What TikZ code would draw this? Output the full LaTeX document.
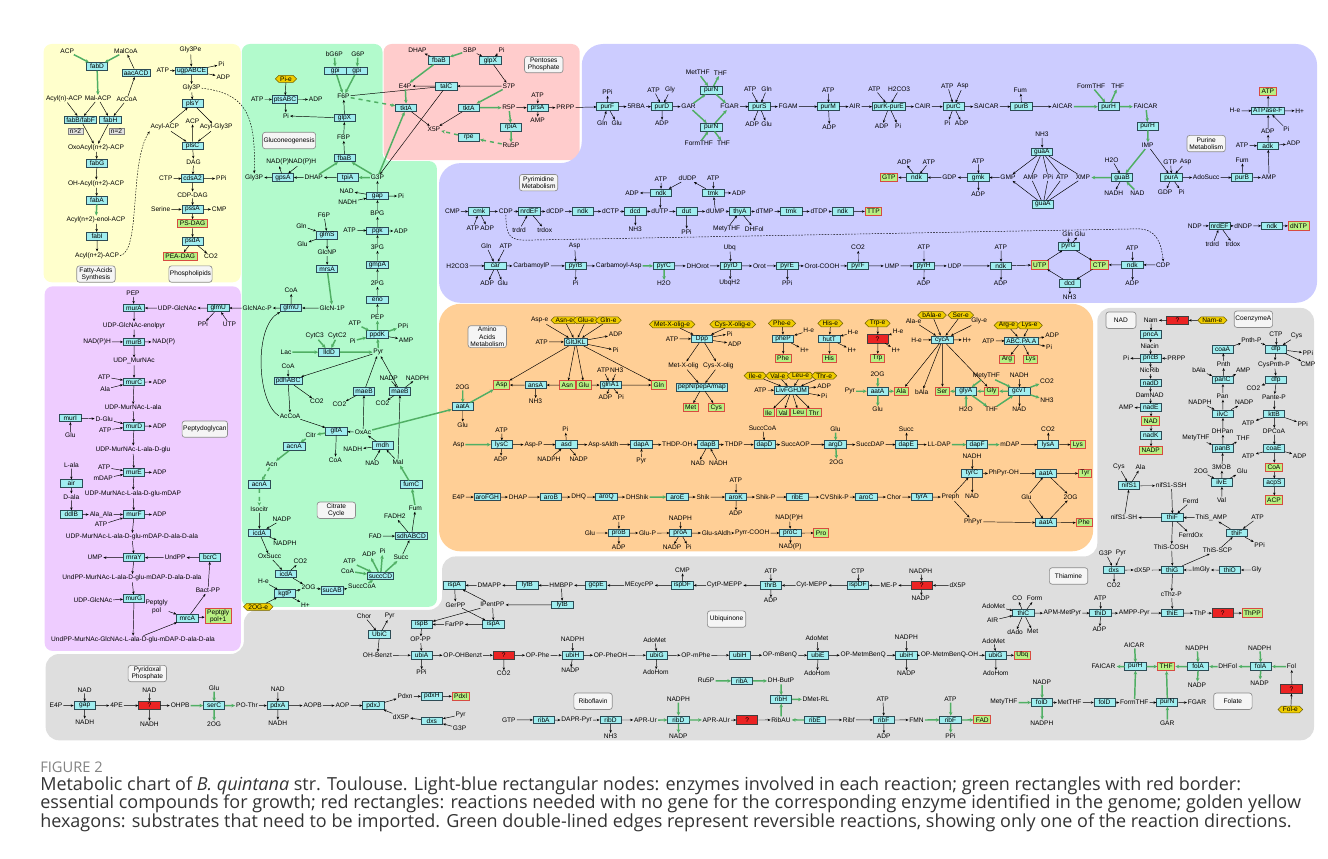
\documentclass[tikz,border=0pt]{standalone}
\usepackage{fontspec}
\setmainfont{Liberation Sans}
\newfontfamily\capfont{Open Sans}
\usetikzlibrary{arrows.meta,shapes.symbols}
\definecolor{cyel}{RGB}{255,255,204}
\definecolor{cgrn}{RGB}{178,250,204}
\definecolor{cpnk}{RGB}{255,204,204}
\definecolor{cblu}{RGB}{204,204,255}
\definecolor{corg}{RGB}{255,207,150}
\definecolor{cpur}{RGB}{238,204,255}
\definecolor{cgry}{RGB}{222,222,222}
\definecolor{cenz}{RGB}{160,238,240}
\definecolor{cenzb}{RGB}{45,75,85}
\definecolor{cess}{RGB}{185,240,130}
\definecolor{cessb}{RGB}{215,75,65}
\definecolor{cimp}{RGB}{240,205,0}
\definecolor{cimpb}{RGB}{110,95,0}
\definecolor{cunk}{RGB}{235,35,35}
\definecolor{crev}{RGB}{80,175,100}
\definecolor{ccap}{RGB}{51,51,51}
\definecolor{cfig}{RGB}{130,130,130}
\tikzset{
  every node/.style={font=\fontsize{4.95}{5.6}\selectfont},
  enz/.style={draw=cenzb,fill=cenz,line width=0.5pt,minimum width=16pt,minimum height=5.75pt,inner xsep=1.2pt,inner ysep=0.2pt},
  met/.style={inner sep=0.6pt,align=center},
  ess/.style={draw=cessb,fill=cess,line width=0.6pt,minimum height=6.2pt,inner xsep=1.6pt,inner ysep=0.3pt,align=center},
  unk/.style={draw=black!75,fill=cunk,line width=0.5pt,minimum width=16pt,minimum height=6.2pt,inner sep=0pt},
  imp/.style={shape=signal,signal to=west and east,draw=cimpb,fill=cimp,line width=0.4pt,inner xsep=1pt,inner ysep=0.2pt,minimum height=5.2pt},
  lab/.style={draw=black!45,fill=black!4,rounded corners=2pt,align=center,minimum width=28.8pt,minimum height=12.3pt,inner sep=0.8pt,line width=0.5pt},
  nbx/.style={draw=black!50,fill=black!12,line width=0.4pt,inner sep=0.6pt,minimum width=11.3pt},
  ar/.style={line width=0.35pt,-{Stealth[length=2.2pt,width=1.8pt]}},
  ln/.style={line width=0.35pt},
  rv/.style={draw=crev,line width=1.1pt,-{Stealth[length=2.8pt,width=2.6pt]}},
  rvd/.style={rv,dashed},
  dsh/.style={line width=0.35pt,dash pattern=on 1.2pt off 1pt,-{Stealth[length=2.2pt,width=1.8pt]}},
}
\newcommand\zE[4]{\node[enz] (#1) at (#2,#3) {#4};}
\newcommand\zM[4]{\node[met] (#1) at (#2,#3) {#4};}
\newcommand\zG[4]{\node[ess] (#1) at (#2,#3) {#4};}
\newcommand\zR[3]{\node[unk] (#1) at (#2,#3) {?};}
\newcommand\zH[4]{\node[imp] (#1) at (#2,#3) {#4};}
\newcommand\zL[4]{\node[lab] (#1) at (#2,#3) {#4};}
\begin{document}
\begin{tikzpicture}[x=0.75pt,y=-0.75pt]
\useasboundingbox (0,0) rectangle (1328,858);
\begin{scope}[shift={(-2.6,-1.2)},scale=1.027]
% ---------- regions
\fill[cyel,rounded corners=6pt] (45,44) rectangle (237,276);
\fill[cgrn,rounded corners=6pt] (238,44) -- (375,44) -- (375,158) -- (428,158) -- (428,592) -- (238,592) -- cycle;
\fill[cpnk,rounded corners=6pt] (376,44) rectangle (567,157);
\fill[cblu,rounded corners=16pt] (569,44) -- (1285,44) -- (1285,296) -- (430,296) -- (430,160) -- (569,160) -- cycle;
\fill[corg,rounded corners=16pt] (430,297) rectangle (1067,538);
\fill[cpur,rounded corners=6pt] (46,280) rectangle (237,635);
\fill[cgry,rounded corners=10pt] (47,638) -- (240,638) -- (240,595) -- (433,595) -- (433,543) -- (1071,543) -- (1071,301) -- (1282,301) -- (1282,722) -- (47,722) -- cycle;
% ---------- fatty acids
\zM{ACPa}{68}{51}{ACP}
\zM{MalCoA}{125}{51}{MalCoA}
\zE{fabD}{97}{66}{fabD}
\zE{aacACD}{135}{72}{aacACD}
\zM{AcylnACP}{65}{97}{Acyl(n)-ACP}
\zM{MalACP}{98}{97}{Mal-ACP}
\zM{AcCoAy}{126}{98}{AcCoA}
\zE{fabBF}{81}{118}{fabB/fabF}
\zE{fabH}{110}{118}{fabH}
\node[nbx] (n2a) at (76,129) {n>2};
\node[nbx] (n2b) at (116,129) {n=2};
\zM{Oxo}{96}{145}{OxoAcyl(n+2)-ACP}
\zE{fabG}{97}{160}{fabG}
\zM{OHAcyl}{96}{180}{OH-Acyl(n+2)-ACP}
\zE{fabA}{97}{196}{fabA}
\zM{Enol}{96}{215}{Acyl(n+2)-enol-ACP}
\zE{fabI}{97}{231}{fabI}
\zM{Acyl2}{97}{250}{Acyl(n+2)-ACP}
\zL{LFA}{96}{268}{Fatty-Acids\\Synthesis}
% ---------- phospholipids
\zM{Gly3Pe}{188}{50}{Gly3Pe}
\zE{ugp}{189}{70}{ugpABCE}
\zM{ATPy}{161}{70}{ATP}
\zM{Piy}{218}{64}{Pi}
\zM{ADPy}{220}{76}{ADP}
\zM{Gly3Py}{189}{87}{Gly3P}
\zE{plsY}{190}{102}{plsY}
\zM{ACPy}{190}{119}{ACP}
\zM{AcylACP}{163}{125}{Acyl-ACP}
\zM{AcylGly}{213}{125}{Acyl-Gly3P}
\zE{plsC}{190}{143}{plsC}
\zM{DAG}{191}{159}{DAG}
\zM{CTPy}{164}{175}{CTP}
\zE{cdsA}{190}{175}{cdsA2}
\zM{PPiy}{218}{175}{PPi}
\zM{CDPDAG}{190}{191}{CDP-DAG}
\zM{Serine}{159}{205}{Serine}
\zE{pssA}{190}{205}{pssA}
\zM{CMPy}{216}{205}{CMP}
\zG{PSDAG}{190}{219}{PS-DAG}
\zE{psdA}{190}{236}{psdA}
\zG{PEADAG}{178}{251}{PEA-DAG}
\zM{CO2y}{208}{251}{CO2}
\zL{LPL}{188}{268}{Phospholipids}
% ---------- gluconeogenesis
\zM{bG6P}{328}{54}{bG6P}
\zM{G6P}{351}{54}{G6P}
\zE{gpi1}{329}{70}{gpi}
\zE{gpi2}{350}{70}{gpi}
\zH{Pie}{281}{78}{Pi-e}
\zM{ATPg}{253}{98}{ATP}
\zE{pts}{280}{98}{ptsABC}
\zM{ADPg}{310}{98}{ADP}
\zM{F6P}{337}{95}{F6P}
\zM{Pig}{281}{114}{Pi}
\zE{glpXg}{338}{116}{glpX}
\zL{LGlu}{284}{138}{Gluconeogenesis}
\zM{FBP}{337}{135}{FBP}
\zE{fbaBg}{338}{155}{fbaB}
\zM{NADPg}{273}{159}{NAD(P)}
\zM{NADPHg}{297}{159}{NAD(P)H}
\zM{Gly3Pg}{250}{174}{Gly3P}
\zE{gpsA}{278}{174}{gpsA}
\zM{DHAPg}{308}{174}{DHAP}
\zE{tpiA}{341}{174}{tpiA}
\zM{G3P}{370}{174}{G3P}
\zM{NADg}{340}{187}{NAD}
\zM{NADHg}{341}{198}{NADH}
\zE{gap}{370}{192}{gap}
\zM{Pig2}{393}{192}{Pi}
\zM{BPG}{370}{209}{BPG}
\zM{ATPg2}{343}{225}{ATP}
\zE{pgk}{370}{226}{pgk}
\zM{ADPg2}{393}{226}{ADP}
\zM{PG3}{370}{242}{3PG}
\zE{gmpA}{370}{259}{gmpA}
\zM{PG2}{370}{277}{2PG}
\zE{eno}{370}{293}{eno}
\zM{PEPg}{370}{310}{PEP}
\zE{ppdK}{370}{327}{ppdK}
\zM{ATPg3}{348}{316}{ATP}
\zM{Pig3}{346}{333}{Pi}
\zM{PPig}{395}{319}{PPi}
\zM{AMPg}{398}{332}{AMP}
\zM{Pyr}{371}{344}{Pyr}
\zM{F6Pb}{318}{211}{F6P}
\zM{Glnm}{296}{221}{Gln}
\zE{glmS}{321}{230}{glmS}
\zM{Glum}{297}{239}{Glu}
\zM{GlcNP}{321}{247}{GlcNP}
\zE{mrsA}{321}{263}{mrsA}
\zM{GlcN1P}{326}{301}{GlcN-1P}
\zE{glmUb}{286}{301}{glmU}
\zM{CoAg}{286}{284}{CoA}
\zM{GlcNAcP}{253}{301}{GlcNAc-P}
% ---------- citrate cycle
\zM{Lac}{281}{344}{Lac}
\zE{lldD}{323}{344}{lldD}
\zM{CytC3}{309}{328}{CytC3}
\zM{CytC2}{331}{328}{CytC2}
\zM{CoAg2}{283}{358}{CoA}
\zE{pdhABC}{283}{372}{pdhABC}
\zM{CO2g1}{311}{392}{CO2}
\zM{AcCoAg}{285}{406}{AcCoA}
\zM{CO2g2}{333}{395}{CO2}
\zE{maeB1}{357}{382}{maeB}
\zM{NADPg2}{381}{369}{NADP}
\zM{NADPHg2}{409}{369}{NADPH}
\zE{maeB2}{392}{382}{maeB}
\zM{CO2g4}{375}{394}{CO2}
\zM{Citr}{305}{425}{Citr}
\zE{gltA}{330}{421}{gltA}
\zM{OxAc}{356}{422}{OxAc}
\zM{CoAg3}{329}{449}{CoA}
\zE{acnA1}{289}{436}{acnA}
\zM{Acn}{267}{453}{Acn}
\zE{acnA2}{255}{473}{acnA}
\zM{Isocitr}{255}{497}{Isocitr}
\zL{LCit}{330}{498}{Citrate\\Cycle}
\zM{NADHg2}{346}{439}{NADH}
\zE{mdh}{375}{435}{mdh}
\zM{NADg2}{365}{452}{NAD}
\zM{Mal}{390}{451}{Mal}
\zE{fumC}{403}{473}{fumC}
\zM{Fum}{407}{496}{Fum}
\zM{FADH2}{387}{504}{FADH2}
\zM{FADg}{368}{523}{FAD}
\zE{sdh}{403}{523}{sdhABCD}
\zM{ADPg3}{362}{541}{ADP}
\zM{Pig4}{375}{538}{Pi}
\zM{Succ}{393}{544}{Succ}
\zE{succCD}{373}{562}{succCD}
\zM{ATPg4}{343}{548}{ATP}
\zM{CoAg4}{341}{557}{CoA}
\zM{NADPg3}{277}{507}{NADP}
\zE{icdA1}{255}{520}{icdA}
\zM{NADPHg3}{280}{530}{NADPH}
\zM{OxSucc}{265}{543}{OxSucc}
\zM{CO2g3}{295}{548}{CO2}
\zE{icdA2}{281}{560}{icdA}
\zM{Heg}{259}{567}{H-e}
\zM{OG5}{303}{573}{2OG}
\zE{kgtP}{280}{579}{kgtP}
\zE{sucAB}{326}{576}{sucAB}
\zM{SuccCoA}{355}{572}{SuccCoA}
\zH{OGe}{254}{592}{2OG-e}
\zM{Hpg}{300}{590}{H+}
% ---------- pentoses phosphate
\zM{DHAPp}{409}{50}{DHAP}
\zM{SBP}{460}{50}{SBP}
\zM{Pip}{491}{50}{Pi}
\zE{fbaBp}{430}{60}{fbaB}
\zE{glpXp}{480}{60}{glpX}
\zL{LPP}{532}{64}{Pentoses\\Phosphate}
\zM{E4P}{397}{85}{E4P}
\zE{talC}{437}{85}{talC}
\zM{S7P}{498}{85}{S7P}
\zE{tktA1}{398}{106}{tktA}
\zE{tktA2}{459}{106}{tktA}
\zM{R5P}{498}{106}{R5P}
\zM{ATPp}{526}{94}{ATP}
\zE{prsA}{526}{106}{prsA}
\zM{AMPp}{526}{118}{AMP}
\zM{PRPP}{553}{106}{PRPP}
\zE{rpiA}{500}{125}{rpiA}
\zM{X5P}{425}{127}{X5P}
\zE{rpe}{459}{135}{rpe}
\zM{Ru5P}{500}{143}{Ru5P}
% ---------- purine
\zM{PPib}{594}{91}{PPi}
\zE{purF}{594}{105}{purF}
\zM{Glnb}{589}{121}{Gln}
\zM{Glub}{603}{121}{Glu}
\zM{RBA}{622}{105}{5RBA}
\zM{ATPb1}{639}{89}{ATP}
\zM{Glyb}{655}{89}{Gly}
\zE{purD}{647}{105}{purD}
\zM{ADPb1}{647}{121}{ADP}
\zM{GAR}{673}{105}{GAR}
\zM{MetTHFb}{682}{72}{MetTHF}
\zM{THFb1}{704}{72}{THF}
\zE{purN1}{695}{89}{purN}
\zM{FGAR}{713}{105}{FGAR}
\zE{purN2}{695}{125}{purN}
\zM{FormTHFb}{683}{141}{FormTHF}
\zM{THFb2}{707}{141}{THF}
\zM{ATPb2}{733}{88}{ATP}
\zM{Glnb2}{749}{88}{Gln}
\zE{purS}{742}{105}{purS}
\zM{ADPb2}{735}{122}{ADP}
\zM{Glub2}{749}{122}{Glu}
\zM{FGAM}{770}{105}{FGAM}
\zM{ATPb3}{809}{89}{ATP}
\zE{purM}{809}{105}{purM}
\zM{ADPb3}{810}{125}{ADP}
\zM{AIR}{835}{105}{AIR}
\zM{ATPb4}{854}{88}{ATP}
\zM{H2CO3b}{878}{88}{H2CO3}
\zE{purKE}{868}{105}{purK-purE}
\zM{ADPb4}{861}{124}{ADP}
\zM{Pib4}{877}{124}{Pi}
\zM{CAIR}{901}{105}{CAIR}
\zM{ATPb5}{925}{85}{ATP}
\zM{Aspb}{940}{85}{Asp}
\zE{purC}{931}{105}{purC}
\zM{Pib5}{925}{121}{Pi}
\zM{ADPb5}{939}{121}{ADP}
\zM{SAICAR}{963}{105}{SAICAR}
\zM{Fumb}{996}{89}{Fum}
\zE{purB1}{997}{105}{purB}
\zM{AICAR}{1037}{105}{AICAR}
\zM{FormTHFb2}{1065}{85}{FormTHF}
\zM{THFb3}{1091}{85}{THF}
\zE{purH1}{1082}{105}{purH}
\zM{FAICAR}{1118}{105}{FAICAR}
\zE{purH2}{1120}{124}{purH}
\zM{IMP}{1120}{143}{IMP}
\zG{ATPess}{1237}{90}{ATP}
\zM{He1}{1205}{109}{H-e}
\zE{ATPase}{1237}{109}{ATPase-F}
\zM{Hp1}{1268}{109}{H+}
\zM{Pib6}{1255}{127}{Pi}
\zM{ADPb6}{1237}{129}{ADP}
\zM{ATPb6}{1212}{143}{ATP}
\zE{adk}{1237}{143}{adk}
\zM{ADPb7}{1262}{141}{ADP}
\zL{LPur}{1177}{141}{Purine\\Metabolism}
\zM{NH3b}{1017}{132}{NH3}
\zE{guaA1}{1017}{149}{guaA}
\zM{AMPb}{1006}{174}{AMP}
\zM{PPib2}{1023}{174}{PPi}
\zM{ATPb7}{1037}{174}{ATP}
\zM{XMP}{1057}{174}{XMP}
\zE{guaA2}{1018}{200}{guaA}
\zM{H2Ob}{1085}{157}{H2O}
\zE{guaB}{1095}{174}{guaB}
\zM{NADHb}{1087}{189}{NADH}
\zM{NADb}{1110}{189}{NAD}
\zM{GTPb}{1142}{159}{GTP}
\zM{Aspb2}{1157}{159}{Asp}
\zE{purA}{1143}{174}{purA}
\zM{GDPb}{1137}{188}{GDP}
\zM{Pib7}{1153}{188}{Pi}
\zM{AdoSucc}{1177}{174}{AdoSucc}
\zM{Fumb2}{1212}{157}{Fum}
\zE{purB2}{1212}{174}{purB}
\zM{AMPb2}{1238}{174}{AMP}
\zM{ADPb8}{883}{159}{ADP}
\zM{ATPb8}{907}{159}{ATP}
\zG{GTPe}{868}{174}{GTP}
\zE{ndk1}{895}{174}{ndk}
\zM{GDP}{927}{174}{GDP}
\zM{ATPb9}{955}{158}{ATP}
\zE{gmk}{955}{174}{gmk}
\zM{ADPb9}{955}{190}{ADP}
\zM{GMP}{984}{174}{GMP}
% ---------- pyrimidine
\zL{LPyr}{527}{179}{Pyrimidine\\Metabolism}
\zM{ATPb10}{646}{176}{ATP}
\zM{dUDP}{672}{175}{dUDP}
\zM{ADPb10}{618}{189}{ADP}
\zE{ndk2}{646}{189}{ndk}
\zM{ATPb11}{697}{175}{ATP}
\zE{tmk1}{697}{189}{tmk}
\zM{ADPb11}{722}{189}{ADP}
\zM{CMP}{443}{207}{CMP}
\zE{cmk}{469}{207}{cmk}
\zM{ATPb12}{463}{223}{ATP}
\zM{ADPb12}{477}{223}{ADP}
\zM{CDP}{495}{207}{CDP}
\zE{nrdEF1}{518}{207}{nrdEF}
\zM{trdrd1}{508}{225}{trdrd}
\zM{trdox1}{533}{225}{trdox}
\zM{dCDP}{543}{207}{dCDP}
\zE{ndk3}{570}{207}{ndk}
\zM{dCTP}{597}{207}{dCTP}
\zE{dcd1}{621}{207}{dcd}
\zM{NH3b2}{621}{224}{NH3}
\zM{dUTP}{645}{207}{dUTP}
\zE{dut}{671}{207}{dut}
\zM{PPib3}{671}{227}{PPi}
\zM{dUMP}{699}{207}{dUMP}
\zE{thyA}{723}{207}{thyA}
\zM{dTMP}{747}{207}{dTMP}
\zE{tmk2}{773}{207}{tmk}
\zM{dTDP}{800}{207}{dTDP}
\zE{ndk4}{823}{207}{ndk}
\zG{TTP}{853}{207}{TTP}
\zM{MetyTHFb}{710}{224}{MetyTHF}
\zM{DHFolb}{737}{224}{DHFol}
\zM{Glnb3}{476}{241}{Gln}
\zM{ATPb13}{495}{241}{ATP}
\zM{H2CO3}{448}{260}{H2CO3}
\zE{car}{485}{260}{car}
\zM{ADPb13}{477}{277}{ADP}
\zM{Glub3}{492}{277}{Glu}
\zM{CarbP}{520}{260}{CarbamoylP}
\zM{Aspb3}{562}{241}{Asp}
\zE{pyrB}{563}{260}{pyrB}
\zM{Pib8}{563}{277}{Pi}
\zM{CarbAsp}{605}{260}{Carbamoyl-Asp}
\zE{pyrC}{649}{260}{pyrC}
\zM{H2Ob2}{649}{277}{H2O}
\zM{DHOrot}{682}{260}{DHOrot}
\zM{Ubqb}{713}{242}{Ubq}
\zE{pyrD}{714}{260}{pyrD}
\zM{UbqH2}{713}{277}{UbqH2}
\zM{Orot}{742}{260}{Orot}
\zE{pyrE}{769}{260}{pyrE}
\zM{PPib4}{769}{277}{PPi}
\zM{OrotCOOH}{803}{260}{Orot-COOH}
\zM{CO2b}{838}{242}{CO2}
\zE{pyrF}{838}{260}{pyrF}
\zM{UMP}{871}{260}{UMP}
\zM{ATPb14}{902}{242}{ATP}
\zE{pyrH}{902}{260}{pyrH}
\zM{ADPb14}{902}{277}{ADP}
\zM{UDP}{932}{260}{UDP}
\zM{ATPb15}{977}{242}{ATP}
\zE{ndk5}{977}{260}{ndk}
\zM{ADPb15}{977}{277}{ADP}
\zG{UTP}{1015}{259}{UTP}
\zM{Glnb4}{1042}{229}{Gln}
\zM{Glub4}{1054}{229}{Glu}
\zE{pyrG}{1043}{241}{pyrG}
\zG{CTP}{1073}{259}{CTP}
\zM{ATPb16}{1105}{243}{ATP}
\zE{ndk6}{1105}{259}{ndk}
\zM{ADPb16}{1105}{277}{ADP}
\zM{CDPb}{1135}{259}{CDP}
\zE{dcd2}{1044}{277}{dcd}
\zM{NH3b3}{1044}{291}{NH3}
\zM{NDP}{1166}{221}{NDP}
\zE{nrdEF2}{1190}{221}{nrdEF}
\zM{dNDP}{1213}{221}{dNDP}
\zE{ndk7}{1241}{221}{ndk}
\zG{dNTP}{1267}{221}{dNTP}
\zM{trdrd2}{1183}{239}{trdrd}
\zM{trdox2}{1203}{239}{trdox}
% ---------- purple: peptidoglycan
\zM{PEPp}{132}{287}{PEP}
\zE{murA}{133}{301}{murA}
\zM{UDPGlcNAc}{175}{301}{UDP-GlcNAc}
\zE{glmUp}{215}{301}{glmU}
\zM{PPip}{200}{317}{PPi}
\zM{UTPp}{226}{317}{UTP}
\zM{Enolpyr}{133}{318}{UDP-GlcNAc-enolpyr}
\zM{NADPHp}{97}{334}{NAD(P)H}
\zE{murB}{133}{334}{murB}
\zM{NADPp}{162}{334}{NAD(P)}
\zM{UDPMurNAc}{133}{353}{UDP\_MurNAc}
\zM{ATPp1}{104}{368}{ATP}
\zM{Alap}{105}{380}{Ala}
\zE{murC}{133}{373}{murC}
\zM{ADPp1}{158}{373}{ADP}
\zM{UMA}{132}{398}{UDP-MurNAc-L-ala}
\zE{murI}{71}{408}{murI}
\zM{DGlu}{104}{409}{D-Glu}
\zM{ATPp2}{105}{420}{ATP}
\zE{murD}{133}{416}{murD}
\zM{ADPp2}{158}{416}{ADP}
\zM{Glup}{71}{425}{Glu}
\zL{LPep}{202}{419}{Peptydoglycan}
\zM{UMAG}{132}{439}{UDP-MurNAc-L-ala-D-glu}
\zM{Lala}{72}{454}{L-ala}
\zE{air}{72}{472}{air}
\zM{Dala}{72}{485}{D-ala}
\zM{ATPp3}{104}{456}{ATP}
\zM{mDAP}{103}{467}{mDAP}
\zE{murE}{133}{461}{murE}
\zM{ADPp3}{158}{461}{ADP}
\zM{UMAGD}{132}{482}{UDP-MurNAc-L-ala-D-glu-mDAP}
\zE{ddlB}{72}{502}{ddlB}
\zM{AlaAla}{101}{502}{Ala\_Ala}
\zE{murF}{133}{502}{murF}
\zM{ADPp4}{158}{502}{ADP}
\zM{ATPp4}{101}{512}{ATP}
\zM{UMAGDAA}{131}{524}{UDP-MurNAc-L-ala-D-glu-mDAP-D-ala-D-ala}
\zM{UMPp}{95}{544}{UMP}
\zE{mraY}{133}{544}{mraY}
\zM{UndPP}{173}{544}{UndPP}
\zE{bcrC}{207}{544}{bcrC}
\zM{UndPPM}{131}{564}{UndPP-MurNAc-L-ala-D-glu-mDAP-D-ala-D-ala}
\zM{BactPP}{205}{576}{Bact-PP}
\zM{UDPGlcNAc2}{93}{586}{UDP-GlcNAc}
\zE{murG}{133}{584}{murG}
\zM{Peptgly}{155}{592}{Peptgly\\pol}
\zE{mrcA}{185}{603}{mrcA}
\zG{Peptgly1}{215}{601}{Peptgly\\pol+1}
\zM{UndPPMG}{132}{624}{UndPP-MurNAc-GlcNAc-L-ala-D-glu-mDAP-D-ala-D-ala}
% ---------- amino acids
\zL{LAA}{477}{329}{Amino\\Acids\\Metabolism}
\zM{Aspe}{528}{313}{Asp-e}
\zH{Asne}{552}{313}{Asn-e}
\zH{Glue}{573}{313}{Glu-e}
\zH{Glne}{595}{313}{Gln-e}
\zM{ATPo1}{530}{334}{ATP}
\zE{GltJKL}{563}{334}{GltJKL}
\zM{ADPo1}{602}{327}{ADP}
\zM{Pio1}{602}{342}{Pi}
\zM{OG1}{453}{378}{2OG}
\zG{Asp}{491}{376}{Asp}
\zE{ansA}{524}{376}{ansA}
\zM{NH3o1}{524}{392}{NH3}
\zG{Asn}{555}{376}{Asn}
\zG{Glu}{571}{376}{Glu}
\zM{ATPo2}{590}{362}{ATP}
\zM{NH3o2}{603}{362}{NH3}
\zE{glnA1}{597}{376}{glnA1}
\zM{ADPo2}{592}{388}{ADP}
\zM{Pio2}{607}{388}{Pi}
\zG{Gln}{644}{376}{Gln}
\zE{aatA1}{453}{397}{aatA}
\zM{Gluo1}{453}{415}{Glu}
\zH{MetXe}{657}{317}{Met-X-olig-e}
\zH{CysXe}{716}{317}{Cys-X-olig-e}
\zM{ATPo3}{657}{331}{ATP}
\zE{Dpp}{686}{331}{Dpp}
\zM{Pio3}{713}{326}{Pi}
\zM{ADPo3}{718}{336}{ADP}
\zM{MetX}{668}{357}{Met-X-olig}
\zM{CysX}{702}{357}{Cys-X-olig}
\zE{pepN}{686}{378}{pepN/pepA/map}
\zG{Met}{675}{398}{Met}
\zG{Cys}{700}{398}{Cys}
\zH{Phee}{764}{316}{Phe-e}
\zE{pheP}{765}{331}{pheP}
\zM{Heo1}{790}{323}{H-e}
\zM{Hpo1}{786}{342}{H+}
\zG{Phe}{765}{350}{Phe}
\zH{Hise}{811}{316}{His-e}
\zE{hutT}{810}{331}{hutT}
\zM{Heo2}{833}{325}{H-e}
\zM{Hpo2}{832}{342}{H+}
\zG{His}{810}{350}{His}
\zH{Trpe}{857}{316}{Trp-e}
\zR{unkT}{857}{331}
\zM{Heo3}{877}{324}{H-e}
\zM{Hpo3}{875}{342}{H+}
\zG{Trp}{857}{350}{Trp}
\zH{bAlae}{910}{308}{bAla-e}
\zH{Sere}{938}{308}{Ser-e}
\zM{Alae}{892}{314}{Ala-e}
\zM{Glye}{956}{314}{Gly-e}
\zM{Heo4}{895}{332}{H-e}
\zE{cycA}{920}{332}{cycA}
\zM{Hpo4}{944}{332}{H+}
\zH{Arge}{983}{318}{Arg-e}
\zH{Lyse}{1005}{318}{Lys-e}
\zM{ATPo4}{965}{333}{ATP}
\zE{ABC}{997}{333}{ABC.PA.A}
\zM{ADPo4}{1027}{328}{ADP}
\zM{Pio4}{1024}{339}{Pi}
\zG{Arg}{983}{351}{Arg}
\zG{Lys1}{1006}{351}{Lys}
\zH{Ilee}{738}{367}{Ile-e}
\zH{Vale}{760}{367}{Val-e}
\zH{Leue}{782}{367}{Leu-e}
\zH{Thre}{805}{367}{Thr-e}
\zM{ATPo5}{743}{381}{ATP}
\zE{Liv}{773}{381}{LivFGHJM}
\zM{ADPo5}{805}{377}{ADP}
\zM{Pio5}{805}{387}{Pi}
\zG{Ile}{751}{403}{Ile}
\zG{Val}{765}{403}{Val}
\zG{Leu}{780}{403}{Leu}
\zG{Thr}{795}{403}{Thr}
\zM{OG2}{857}{366}{2OG}
\zM{Pyro}{830}{382}{Pyr}
\zE{aatA2}{857}{382}{aatA}
\zG{Ala}{880}{382}{Ala}
\zM{Gluo2}{857}{400}{Glu}
\zM{bAla}{900}{383}{bAla}
\zG{Ser}{920}{382}{Ser}
\zE{glyA}{943}{382}{glyA}
\zG{Gly}{968}{382}{Gly}
\zM{H2Oo}{943}{400}{H2O}
\zM{MetyTHFo}{963}{367}{MetyTHF}
\zM{THFo}{968}{400}{THF}
\zM{NADHo}{995}{367}{NADH}
\zE{gcvT}{995}{382}{gcvT}
\zM{NADo}{995}{400}{NAD}
\zM{CO2o1}{1022}{372}{CO2}
\zM{NH3o3}{1022}{391}{NH3}
\zM{Aspo}{449}{434}{Asp}
\zM{ATPo6}{491}{420}{ATP}
\zE{lysC}{491}{434}{lysC}
\zM{ADPo6}{490}{448}{ADP}
\zM{AspP}{522}{434}{Asp-P}
\zM{Pio6}{553}{419}{Pi}
\zE{asd}{554}{434}{asd}
\zM{NADPHo1}{537}{448}{NADPH}
\zM{NADPo1}{566}{448}{NADP}
\zM{AspsAldh}{590}{434}{Asp-sAldh}
\zE{dapA}{627}{434}{dapA}
\zM{Pyro2}{627}{450}{Pyr}
\zM{THDPOH}{662}{434}{THDP-OH}
\zE{dapB}{692}{434}{dapB}
\zM{NADo2}{682}{452}{NAD}
\zM{NADHo2}{702}{452}{NADH}
\zM{THDP}{717}{434}{THDP}
\zM{SuccCoAo}{745}{418}{SuccCoA}
\zE{dapD}{747}{434}{dapD}
\zM{SuccAOP}{777}{434}{SuccAOP}
\zM{Gluo3}{816}{419}{Glu}
\zE{argD}{816}{434}{argD}
\zM{OG3}{817}{451}{2OG}
\zM{SuccDAP}{850}{434}{SuccDAP}
\zM{Succo}{885}{419}{Succ}
\zE{dapE}{885}{434}{dapE}
\zM{LLDAP}{917}{434}{LL-DAP}
\zE{dapF}{954}{434}{dapF}
\zM{mDAPo}{986}{434}{mDAP}
\zM{CO2o2}{1023}{419}{CO2}
\zE{lysA}{1023}{434}{lysA}
\zG{Lys2}{1052}{434}{Lys}
\zM{E4Po}{449}{485}{E4P}
\zE{aroFGH}{477}{485}{aroFGH}
\zM{DHAPo}{507}{485}{DHAP}
\zE{aroB}{539}{485}{aroB}
\zM{DHQ}{566}{485}{DHQ}
\zE{aroQ}{593}{485}{aroQ}
\zM{DHShik}{623}{485}{DHShik}
\zE{aroE}{662}{485}{aroE}
\zM{Shik}{687}{485}{Shik}
\zM{ATPo7}{719}{469}{ATP}
\zE{aroK}{719}{485}{aroK}
\zM{ADPo7}{719}{501}{ADP}
\zM{ShikP}{748}{485}{Shik-P}
\zE{ribEo}{779}{485}{ribE}
\zM{CVShikP}{815}{485}{CVShik-P}
\zE{aroC}{846}{485}{aroC}
\zM{Chor}{873}{485}{Chor}
\zE{tyrA}{900}{485}{tyrA}
\zM{Preph}{928}{485}{Preph}
\zM{NADHo3}{949}{445}{NADH}
\zE{tyrC}{949}{462}{tyrC}
\zM{PhPyrOH}{980}{462}{PhPyr-OH}
\zM{NADo3}{949}{484}{NAD}
\zE{aatA3}{1021}{462}{aatA}
\zG{Tyr}{1059}{462}{Tyr}
\zM{Gluo4}{1002}{485}{Glu}
\zM{OG4}{1045}{485}{2OG}
\zE{aatA4}{1021}{510}{aatA}
\zG{Phe2}{1058}{510}{Phe}
\zM{PhPyr}{950}{509}{PhPyr}
\zM{NADPHo2}{771}{505}{NAD(P)H}
\zM{Gluo5}{577}{520}{Glu}
\zM{ATPo8}{605}{506}{ATP}
\zE{proB}{605}{520}{proB}
\zM{ADPo8}{605}{534}{ADP}
\zM{GluP}{633}{520}{Glu-P}
\zM{NADPHo3}{665}{506}{NADPH}
\zE{proA}{665}{520}{proA}
\zM{NADPo3}{657}{534}{NADP}
\zM{Pio8}{673}{534}{Pi}
\zM{GlusAldh}{700}{520}{Glu-sAldh}
\zM{PyrrCOOH}{735}{520}{Pyrr-COOH}
\zE{proC}{772}{520}{proC}
\zM{NADPo4}{772}{534}{NAD(P)}
\zG{Pro}{802}{520}{Pro}
% ---------- pyridoxal
\zL{LPyd}{146}{657}{Pyridoxal\\Phosphate}
\zM{E4Pd}{57}{688}{E4P}
\zM{NADd1}{85}{673}{NAD}
\zE{gapd}{85}{688}{gap}
\zM{NADHd1}{85}{704}{NADH}
\zM{PE4}{116}{688}{4PE}
\zM{NADd2}{148}{673}{NAD}
\zR{unkd}{148}{688}
\zM{NADHd2}{148}{706}{NADH}
\zM{OHPB}{178}{688}{OHPB}
\zM{Glud}{211}{671}{Glu}
\zE{serC}{211}{688}{serC}
\zM{OGd}{211}{706}{2OG}
\zM{POThr}{243}{688}{PO-Thr}
\zM{NADd3}{273}{672}{NAD}
\zE{pdxA}{273}{688}{pdxA}
\zM{NADHd3}{273}{705}{NADH}
\zM{AOPB}{307}{688}{AOPB}
\zM{AOP}{336}{688}{AOP}
\zE{pdxJ}{366}{688}{pdxJ}
\zM{Pdxn}{397}{679}{Pdxn}
\zE{pdxH}{423}{679}{pdxH}
\zG{Pdxl}{451}{679}{Pdxl}
\zM{dX5Pd}{393}{699}{dX5P}
\zE{dxsd}{423}{703}{dxs}
\zM{Pyrd}{451}{697}{Pyr}
\zM{G3Pd}{450}{710}{G3P}
% ---------- isoprenoids / ubiquinone
\zE{ispA1}{445}{571}{ispA}
\zM{DMAPP}{479}{571}{DMAPP}
\zE{lytB1}{516}{571}{lytB}
\zM{HMBPP}{549}{571}{HMBPP}
\zE{gcpE}{583}{571}{gcpE}
\zM{MEcycPP}{625}{571}{MEcycPP}
\zM{CMPu}{667}{556}{CMP}
\zE{ispDF1}{667}{571}{ispDF}
\zM{CytPMEPP}{708}{571}{CytP-MEPP}
\zM{ATPu1}{753}{557}{ATP}
\zE{thrB}{753}{571}{thrB}
\zM{ADPu1}{753}{586}{ADP}
\zM{CytMEPP}{793}{571}{Cyt-MEPP}
\zM{CTPu}{838}{557}{CTP}
\zE{ispDF2}{838}{571}{ispDF}
\zM{MEP}{868}{571}{ME-P}
\zM{NADPHu1}{899}{557}{NADPH}
\zR{unku1}{900}{571}
\zM{NADPu1}{899}{584}{NADP}
\zM{dX5Pu}{935}{571}{dX5P}
\zE{lytB2}{550}{590}{lytB}
\zM{GerPP}{446}{590}{GerPP}
\zM{IPentPP}{482}{590}{IPentPP}
\zE{ispB}{413}{609}{ispB}
\zM{FarPP}{445}{609}{FarPP}
\zE{ispA2}{483}{609}{ispA}
\zM{Chorq}{357}{601}{Chor}
\zM{Pyrq}{382}{601}{Pyr}
\zE{UbiC}{372}{619}{UbiC}
\zM{OPPP}{412}{624}{OP-PP}
\zM{OHBenzt}{370}{639}{OH-Benzt}
\zE{ubiA}{413}{639}{ubiA}
\zM{PPiq}{413}{656}{PPi}
\zM{OPOHBenzt}{453}{639}{OP-OHBenzt}
\zR{unkq}{493}{639}
\zM{CO2q}{493}{657}{CO2}
\zM{OPPhe}{526}{639}{OP-Phe}
\zM{NADPHq1}{560}{624}{NADPH}
\zE{ubiH1}{560}{639}{ubiH}
\zM{NADPq1}{558}{654}{NADP}
\zM{OPPheOH}{597}{639}{OP-PheOH}
\zM{AdoMet1}{640}{624}{AdoMet}
\zE{ubiG1}{642}{639}{ubiG}
\zM{AdoHom1}{641}{656}{AdoHom}
\zM{OPmPhe}{680}{639}{OP-mPhe}
\zE{ubiH2}{723}{639}{ubiH}
\zM{OPmBenQ}{762}{639}{OP-mBenQ}
\zM{AdoMet2}{798}{623}{AdoMet}
\zE{ubiE}{799}{639}{ubiE}
\zM{AdoHom2}{798}{657}{AdoHom}
\zM{OPMetmBenQ}{843}{639}{OP-MetmBenQ}
\zM{NADPHq2}{885}{622}{NADPH}
\zE{ubiH3}{885}{639}{ubiH}
\zM{NADPq2}{885}{657}{NADP}
\zM{OPMetOH}{927}{639}{OP-MetmBenQ-OH}
\zM{AdoMet3}{970}{625}{AdoMet}
\zE{ubiG2}{972}{639}{ubiG}
\zM{AdoHom3}{972}{657}{AdoHom}
\zG{Ubq}{998}{639}{Ubq}
\zL{LUbq}{710}{604}{Ubiquinone}
% ---------- riboflavin
\zL{LRib}{580}{684}{Riboflavin}
\zM{GTPr}{498}{702}{GTP}
\zE{ribA1}{532}{702}{ribA}
\zM{DAPRPyr}{564}{702}{DAPR-Pyr}
\zE{ribD1}{597}{702}{ribD}
\zM{NH3r}{597}{718}{NH3}
\zM{APRUr}{631}{702}{APR-Ur}
\zM{NADPHr}{663}{682}{NADPH}
\zE{ribD2}{663}{702}{ribD}
\zM{NADPr}{663}{718}{NADP}
\zM{APRAUr}{700}{702}{APR-AUr}
\zR{unkr}{730}{702}
\zM{RibAU}{763}{702}{RibAU}
\zE{ribE}{796}{702}{ribE}
\zM{Ribf}{829}{702}{Ribf}
\zM{ATPr1}{862}{682}{ATP}
\zE{ribF1}{863}{702}{ribF}
\zM{ADPr}{863}{718}{ADP}
\zM{FMN}{895}{702}{FMN}
\zM{ATPr2}{928}{682}{ATP}
\zE{ribF2}{928}{702}{ribF}
\zM{PPir}{928}{718}{PPi}
\zG{FAD}{959}{702}{FAD}
\zM{Ru5Pr}{690}{664}{Ru5P}
\zE{ribA2}{725}{664}{ribA}
\zM{DHButP}{763}{664}{DH-ButP}
\zE{ribH}{763}{682}{ribH}
\zM{DMetRL}{797}{682}{DMet-RL}
% ---------- thiamine
\zM{AdoMet4}{970}{591}{AdoMet}
\zM{COt}{993}{584}{CO}
\zM{Formt}{1010}{584}{Form}
\zE{thiC}{999}{598}{thiC}
\zM{AIRt}{969}{605}{AIR}
\zM{dAdo}{991}{617}{dAdo}
\zM{Mett}{1008}{616}{Met}
\zM{APMMetPyr}{1037}{598}{APM-MetPyr}
\zM{ATPt1}{1074}{584}{ATP}
\zE{thiD}{1074}{598}{thiD}
\zM{ADPt1}{1073}{614}{ADP}
\zM{AMPPPyr}{1107}{598}{AMPP-Pyr}
\zE{thiE}{1144}{598}{thiE}
\zM{ThP}{1171}{598}{ThP}
\zR{unkth}{1193}{598}
\zG{ThPP}{1222}{598}{ThPP}
\zM{G3Pt}{1079}{540}{G3P}
\zM{Pyrt}{1094}{540}{Pyr}
\zE{dxst}{1087}{556}{dxs}
\zM{CO2t}{1087}{571}{CO2}
\zM{dX5Pt}{1115}{556}{dX5P}
\zE{thiG}{1144}{556}{thiG}
\zM{ImGly}{1172}{556}{ImGly}
\zE{thiO}{1200}{556}{thiO}
\zM{Glyt}{1226}{556}{Gly}
\zM{cThzP}{1143}{580}{cThz-P}
\zM{ThiSCOSH}{1143}{534}{ThiS-COSH}
\zM{ThiSSCP}{1188}{537}{ThiS-SCP}
\zM{FerrdOx}{1162}{522}{FerrdOx}
\zE{thiF2}{1207}{520}{thiF}
\zM{PPit}{1229}{532}{PPi}
\zL{LThi}{1043}{562}{Thiamine}
% ---------- NAD
\node[lab,minimum width=22.5pt] (LNAD) at (1094,313) {NAD};
\zM{Nam}{1123}{313}{Nam}
\zR{unkN}{1149}{313}
\zH{Name}{1183}{313}{Nam-e}
\zL{LCoA}{1223}{312}{CoenzymeA}
\zE{pncA}{1123}{327}{pncA}
\zM{Niacin}{1122}{338}{Niacin}
\zM{Pin}{1099}{350}{Pi}
\zE{pncB}{1123}{350}{pncB}
\zM{PRPPn}{1148}{350}{PRPP}
\zM{NicRib}{1122}{362}{NicRib}
\zE{nadD}{1123}{374}{nadD}
\zM{DamNAD}{1122}{386}{DamNAD}
\zM{AMPn}{1099}{398}{AMP}
\zE{nadE}{1123}{398}{nadE}
\zG{NADess}{1123}{411}{NAD}
\zE{nadK}{1123}{425}{nadK}
\zG{NADPess}{1123}{440}{NADP}
\zM{Cyst}{1092}{456}{Cys}
\zM{Alat}{1113}{456}{Ala}
\zE{nifS1}{1102}{474}{nifS1}
\zM{nifSSSH}{1143}{474}{nifS1-SSH}
\zM{nifSSH}{1097}{505}{nifS1-SH}
\zE{thiF1}{1144}{505}{thiF}
\zM{Ferrd}{1162}{489}{Ferrd}
\zM{ThiSAMP}{1182}{505}{ThiS\_AMP}
\zM{ATPt2}{1227}{505}{ATP}
% ---------- CoA
\zE{coaA}{1193}{341}{coaA}
\zM{PnthP}{1221}{332}{Pnth-P}
\zM{CTPc}{1245}{327}{CTP}
\zM{Cysc}{1265}{328}{Cys}
\zE{dfp1}{1245}{341}{dfp}
\zM{PPic}{1276}{345}{PPi}
\zM{CMPc}{1276}{356}{CMP}
\zM{CysPnthP}{1243}{356}{CysPnth-P}
\zE{dfp2}{1245}{371}{dfp}
\zM{CO2c}{1223}{379}{CO2}
\zM{PanteP}{1243}{388}{Pante-P}
\zE{kttB}{1243}{404}{kttB}
\zM{ATPc1}{1218}{413}{ATP}
\zM{PPic2}{1271}{414}{PPi}
\zM{DPCoA}{1243}{421}{DPCoA}
\zE{coaE}{1243}{438}{coaE}
\zM{ATPc2}{1218}{445}{ATP}
\zM{ADPc}{1268}{445}{ADP}
\zG{CoAess}{1243}{456}{CoA}
\zE{acpS}{1243}{471}{acpS}
\zG{ACPess}{1243}{488}{ACP}
\zM{Pnth}{1194}{356}{Pnth}
\zM{bAlac}{1170}{362}{bAla}
\zM{AMPc}{1213}{362}{AMP}
\zE{panC}{1193}{371}{panC}
\zM{Pan}{1193}{387}{Pan}
\zM{NADPHc}{1171}{393}{NADPH}
\zM{NADPc}{1214}{393}{NADP}
\zE{ilvC}{1193}{404}{ilvC}
\zM{DHPan}{1193}{421}{DHPan}
\zM{MetyTHFc}{1167}{428}{MetyTHF}
\zM{THFc}{1213}{428}{THF}
\zE{panB}{1193}{438}{panB}
\zM{MOB3}{1192}{456}{3MOB}
\zM{OG2c}{1172}{460}{2OG}
\zM{Gluc}{1212}{460}{Glu}
\zE{ilvE}{1192}{471}{ilvE}
\zM{Valc}{1192}{488}{Val}
% ---------- folate
\zM{AICARf}{1107}{629}{AICAR}
\zM{FAICARf}{1077}{650}{FAICAR}
\zE{purH3}{1108}{650}{purH}
\zG{THFess}{1138}{650}{THF}
\zM{NADPHf2}{1168}{632}{NADPH}
\zE{folA1}{1169}{650}{folA}
\zM{NADPf2}{1168}{668}{NADP}
\zM{DHFolf}{1198}{650}{DHFol}
\zM{NADPHf3}{1229}{632}{NADPH}
\zE{folA2}{1230}{650}{folA}
\zM{NADPf3}{1229}{666}{NADP}
\zM{Fol}{1260}{650}{Fol}
\zR{unkF}{1260}{672}
\zH{Fole}{1259}{692}{Fol-e}
\zL{LFol}{1203}{684}{Folate}
\zM{NADPf1}{1017}{665}{NADP}
\zE{folD1}{1017}{685}{folD}
\zM{NADPHf1}{1017}{705}{NADPH}
\zM{MetyTHFf}{980}{685}{MetyTHF}
\zM{MetTHFf}{1044}{685}{MetTHF}
\zE{folD2}{1078}{685}{folD}
\zM{FormTHFf}{1107}{685}{FormTHF}
\zE{purN3}{1139}{685}{purN}
\zM{FGARf}{1168}{685}{FGAR}
\zM{GARf}{1139}{705}{GAR}
% ================= EDGES
\foreach \a/\b in {AcCoAy/aacACD,aacACD/MalCoA,AcylnACP/fabBF,MalACP/fabBF,MalACP/fabH,AcCoAy/fabH,fabBF/Oxo,fabH/Oxo,Oxo/fabG,fabG/OHAcyl,OHAcyl/fabA,Enol/fabI,fabI/Acyl2,
  Gly3Pe/ugp,ATPy/ugp,ugp/Piy,ugp/ADPy,ugp/Gly3Py,Gly3Py/plsY,AcylACP/plsY,plsY/AcylGly,AcylGly/plsC,AcylACP/plsC,plsC/ACPy,plsC/DAG,DAG/cdsA,CTPy/cdsA,cdsA/PPiy,cdsA/CDPDAG,CDPDAG/pssA,Serine/pssA,pssA/CMPy,pssA/PSDAG,PSDAG/psdA,psdA/PEADAG,psdA/CO2y}
  \draw[ar] (\a)--(\b);
\foreach \a/\b in {ACPa/fabD,MalCoA/fabD,fabD/MalACP,fabA/Enol} \draw[rv] (\a)--(\b);
\draw[dsh] (Acyl2.east) .. controls (140,246) and (128,160) .. (AcylACP.south west);
\draw[dsh] (Gly3Py.east) .. controls (240,92) and (252,110) .. (Gly3Pg.north);
\foreach \a/\b in {Pie/pts,ATPg/pts,pts/ADPg,pts/Pig,FBP/glpXg,glpXg/F6P,glpXg/Pig,fbaBg/FBP,DHAPg/gpsA,gpsA/Gly3Pg,NADPHg/gpsA,gpsA/NADPg,tpiA/DHAPg,
  gap/G3P,BPG/gap,gap/Pig2,NADHg/gap,gap/NADg,pgk/BPG,PG3/pgk,ATPg2/pgk,pgk/ADPg2,gmpA/PG3,PG2/gmpA,eno/PG2,PEPg/eno,ppdK/AMPg,
  F6Pb/glmS,Glnm/glmS,glmS/Glum,glmS/GlcNP,GlcNP/mrsA,GlcN1P/glmUb,glmUb/GlcNAcP,glmUb/CoAg}
  \draw[ar] (\a)--(\b);
\foreach \a/\b in {bG6P/gpi1,G6P/gpi2,gpi1/F6P,gpi2/F6P,G3P/fbaBg,DHAPg/fbaBg,G3P/tpiA,ppdK/PEPg,Pyr/ppdK,ATPg3/ppdK,Pig3/ppdK,ppdK/PPig,mrsA/GlcN1P} \draw[rv] (\a)--(\b);
\foreach \a/\b in {fbaBp/DHAPp,Pip/glpXp,SBP/glpXp,glpXp/S7P,S7P/talC,talC/E4P,tktA1/X5P,tktA2/X5P,R5P/prsA,ATPp/prsA,prsA/AMPp,prsA/PRPP,talC/G3P}
  \draw[ar] (\a)--(\b);
\draw[ln] (F6P) -- (talC);
\foreach \a/\b in {SBP/fbaBp,fbaBp/E4P,E4P/tktA1,G3P/tktA1,S7P/tktA2,tktA2/R5P,R5P/rpiA,rpiA/Ru5P} \draw[rv] (\a)--(\b);
\foreach \a/\b in {F6P/tktA1,Ru5P/rpe,rpe/X5P} \draw[rvd] (\a)--(\b);
\foreach \a/\b in {PRPP/purF,purF/RBA,Glnb/purF,purF/Glub,purF/PPib,RBA/purD,purD/GAR,ATPb1/purD,Glyb/purD,purD/ADPb1,
  FGAR/purS,purS/FGAM,ATPb2/purS,Glnb2/purS,purS/ADPb2,purS/Glub2,FGAM/purM,purM/AIR,ATPb3/purM,purM/ADPb3,AIR/purKE,purKE/CAIR,ATPb4/purKE,H2CO3b/purKE,purKE/ADPb4,purKE/Pib4,
  CAIR/purC,purC/SAICAR,ATPb5/purC,Aspb/purC,purC/Pib5,purC/ADPb5,SAICAR/purB1,purB1/AICAR,purB1/Fumb,
  H2Ob/guaB,guaB/NADHb,IMP/purA,purA/AdoSucc,GTPb/purA,Aspb2/purA,purA/GDPb,purA/Pib7,AdoSucc/purB2,purB2/AMPb2,purB2/Fumb2,
  AMPb2/adk,ATPb6/adk,adk/ADPb7,adk/ADPb6,ADPb6/ATPase,ATPase/ATPess,He1/ATPase,ATPase/Hp1,Pib6/ATPase,
  guaA1/GMP,guaA2/GMP,NH3b/guaA1,GMP/gmk,gmk/GDP,ATPb9/gmk,gmk/ADPb9,GDP/ndk1,ndk1/GTPe,ATPb8/ndk1,ndk1/ADPb8}
  \draw[ar] (\a)--(\b);
\foreach \a/\b in {guaA1/AMPb,guaA1/PPib2,guaA1/ATPb7,guaA2/AMPb,guaA2/PPib2,guaA2/ATPb7,XMP/guaA1,XMP/guaA2} \draw[ln] (\a)--(\b);
\foreach \a/\b in {GAR/purN1,purN1/FGAR,GAR/purN2,purN2/FGAR,MetTHFb/purN1,purN1/THFb1,FormTHFb/purN2,purN2/THFb2,
  AICAR/purH1,purH1/FAICAR,FormTHFb2/purH1,purH1/THFb3,FAICAR/purH2,purH2/IMP,IMP/guaB,guaB/XMP,NADb/guaB} \draw[rv] (\a)--(\b);
\foreach \a/\b in {CMP/cmk,cmk/CDP,ATPb12/cmk,cmk/ADPb12,CDP/nrdEF1,nrdEF1/dCDP,trdrd1/nrdEF1,nrdEF1/trdox1,dCDP/ndk3,ndk3/dCTP,dCTP/dcd1,dcd1/dUTP,dcd1/NH3b2,
  dUTP/dut,dut/dUMP,dut/PPib3,dUMP/thyA,thyA/dTMP,MetyTHFb/thyA,thyA/DHFolb,dTMP/tmk2,tmk2/dTDP,dTDP/ndk4,ndk4/TTP,
  dUDP/ndk2,ATPb10/ndk2,ndk2/ADPb10,ndk2/dUTP,ATPb11/tmk1,tmk1/ADPb11,dUMP/tmk1,tmk1/dUDP,
  H2CO3/car,car/CarbP,Glnb3/car,ATPb13/car,car/ADPb13,car/Glub3,CarbP/pyrB,Aspb3/pyrB,pyrB/Pib8,pyrB/CarbAsp,pyrC/DHOrot,
  DHOrot/pyrD,pyrD/Orot,Ubqb/pyrD,pyrD/UbqH2,Orot/pyrE,pyrE/OrotCOOH,pyrE/PPib4,OrotCOOH/pyrF,pyrF/UMP,pyrF/CO2b,UMP/pyrH,pyrH/UDP,ATPb14/pyrH,pyrH/ADPb14,
  UDP/ndk5,ndk5/UTP,ATPb15/ndk5,ndk5/ADPb15,UTP/pyrG,pyrG/CTP,Glnb4/pyrG,pyrG/Glub4,CTP/dcd2,dcd2/UTP,dcd2/NH3b3,CDPb/ndk6,ndk6/CTP,ATPb16/ndk6,ndk6/ADPb16,
  NDP/nrdEF2,nrdEF2/dNDP,trdrd2/nrdEF2,nrdEF2/trdox2,dNDP/ndk7,ndk7/dNTP}
  \draw[ar] (\a)--(\b);
\foreach \a/\b in {CarbAsp/pyrC,pyrC/H2Ob2} \draw[rv] (\a)--(\b);
\draw[dsh] (CDP.south) .. controls (495,232) and (500,235) .. (515,235) -- (1000,226) -- (1110,224) .. controls (1128,224) and (1133,236) .. (CDPb.north);
\foreach \a/\b in {GlcNAcP/glmUp,glmUp/UDPGlcNAc,UDPGlcNAc/murA,PEPp/murA,glmUp/PPip,UTPp/glmUp,murA/Enolpyr,Enolpyr/murB,NADPHp/murB,murB/NADPp,murB/UDPMurNAc,
  UDPMurNAc/murC,ATPp1/murC,Alap/murC,murC/ADPp1,murC/UMA,UMA/murD,murI/DGlu,Glup/murI,DGlu/murD,ATPp2/murD,murD/ADPp2,murD/UMAG,
  UMAG/murE,ATPp3/murE,mDAP/murE,murE/ADPp3,murE/UMAGD,Lala/air,air/Dala,Dala/ddlB,ddlB/AlaAla,AlaAla/murF,ATPp4/murF,UMAGD/murF,murF/ADPp4,murF/UMAGDAA,
  UMAGDAA/mraY,mraY/UMPp,UndPP/mraY,bcrC/UndPP,BactPP/bcrC,mraY/UndPPM,UndPPM/murG,UDPGlcNAc2/murG,murG/UndPPMG,UndPPMG/mrcA,Peptgly/mrcA,mrcA/Peptgly1,mrcA/BactPP}
  \draw[ar] (\a)--(\b);
\foreach \a/\b in {Pyr/pdhABC,CoAg2/pdhABC,pdhABC/CO2g1,pdhABC/AcCoAg,AcCoAg/gltA,OxAc/gltA,gltA/CoAg3,Isocitr/icdA1,icdA1/OxSucc,NADPg3/icdA1,icdA1/NADPHg3,
  OxSucc/icdA2,icdA2/CO2g3,icdA2/OG5,OG5/sucAB,sucAB/SuccCoA,Heg/kgtP,OGe/kgtP,kgtP/Hpg,kgtP/OG5,Succ/sdh,FADg/sdh,sdh/FADH2,sdh/Fum,
  Mal/mdh,mdh/OxAc,NADg2/mdh,mdh/NADHg2,OxAc/maeB1,maeB1/Pyr,maeB1/CO2g2,Mal/maeB2,maeB2/Pyr,NADPg2/maeB2,maeB2/NADPHg2,maeB2/CO2g4}
  \draw[ar] (\a)--(\b);
\foreach \a/\b in {Lac/lldD,lldD/Pyr,CytC3/lldD,CytC2/lldD,gltA/Citr,Citr/acnA1,acnA1/Acn,SuccCoA/succCD,succCD/Succ,ATPg4/succCD,CoAg4/succCD,succCD/ADPg3,succCD/Pig4,Fum/fumC,fumC/Mal}
  \draw[rv] (\a)--(\b);
\foreach \a/\b in {Acn/acnA2,acnA2/Isocitr} \draw[rvd] (\a)--(\b);
\draw[ar] (AcCoAg.west) .. controls (252,392) and (250,318) .. (glmUb.south west);
\foreach \a/\b in {Aspe/GltJKL,Asne/GltJKL,Glue/GltJKL,Glne/GltJKL,ATPo1/GltJKL,GltJKL/ADPo1,GltJKL/Pio1,GltJKL/Asp,GltJKL/Asn,GltJKL/Glu,GltJKL/Gln,
  Asn/ansA,ansA/Asp,ansA/NH3o1,Glu/glnA1,glnA1/Gln,ATPo2/glnA1,NH3o2/glnA1,glnA1/ADPo2,glnA1/Pio2,aatA1/Gluo1,
  MetXe/Dpp,CysXe/Dpp,ATPo3/Dpp,Dpp/Pio3,Dpp/ADPo3,Dpp/MetX,Dpp/CysX,MetX/pepN,CysX/pepN,pepN/Met,pepN/Cys,
  Phee/pheP,pheP/Phe,Heo1/pheP,pheP/Hpo1,Hise/hutT,hutT/His,Heo2/hutT,hutT/Hpo2,Trpe/unkT,unkT/Trp,Heo3/unkT,unkT/Hpo3,
  Alae/cycA,bAlae/cycA,Sere/cycA,Glye/cycA,Heo4/cycA,cycA/Hpo4,cycA/Ala,cycA/bAla,cycA/Ser,cycA/Gly,
  Arge/ABC,Lyse/ABC,ATPo4/ABC,ABC/ADPo4,ABC/Pio4,ABC/Arg,ABC/Lys1,
  Ilee/Liv,Vale/Liv,Leue/Liv,Thre/Liv,ATPo5/Liv,Liv/ADPo5,Liv/Pio5,Liv/Ile,Liv/Val,Liv/Leu,Liv/Thr,NADHo/gcvT,gcvT/NADo,
  lysC/AspP,ATPo6/lysC,lysC/ADPo6,AspP/asd,asd/AspsAldh,asd/Pio6,NADPHo1/asd,asd/NADPo1,AspsAldh/dapA,dapA/THDPOH,Pyro2/dapA,THDPOH/dapB,dapB/THDP,NADHo2/dapB,dapB/NADo2,
  THDP/dapD,dapD/SuccAOP,SuccCoAo/dapD,SuccAOP/argD,argD/SuccDAP,SuccDAP/dapE,dapE/LLDAP,dapE/Succo,mDAPo/lysA,lysA/Lys2,lysA/CO2o2,
  E4Po/aroFGH,aroFGH/DHAPo,DHAPo/aroB,aroB/DHQ,DHQ/aroQ,aroQ/DHShik,aroE/Shik,Shik/aroK,aroK/ShikP,ATPo7/aroK,aroK/ADPo7,ShikP/ribEo,ribEo/CVShikP,CVShikP/aroC,aroC/Chor,Chor/tyrA,tyrA/Preph,
  Preph/tyrC,NADHo3/tyrC,tyrC/NADo3,tyrC/PhPyrOH,PhPyrOH/aatA3,aatA3/Tyr,Preph/PhPyr,PhPyr/aatA4,aatA4/Phe2,Gluo4/aatA3,Gluo4/aatA4,aatA3/OG4,aatA4/OG4,
  Gluo5/proB,proB/GluP,ATPo8/proB,proB/ADPo8,GluP/proA,proA/GlusAldh,NADPHo3/proA,proA/NADPo3,proA/Pio8,GlusAldh/PyrrCOOH,PyrrCOOH/proC,proC/Pro,NADPHo2/proC,proC/NADPo4}
  \draw[ar] (\a)--(\b);
\foreach \a/\b in {OxAc/aatA1,aatA1/Asp,OG1/aatA1,Pyro/aatA2,aatA2/Ala,OG2/aatA2,aatA2/Gluo2,Gly/glyA,glyA/Ser,H2Oo/glyA,gcvT/Gly,MetyTHFo/glyA,THFo/gcvT,MetyTHFo/gcvT,glyA/THFo,gcvT/CO2o1,gcvT/NH3o3,
  Aspo/lysC,Gluo3/argD,argD/OG3,LLDAP/dapF,dapF/mDAPo,DHShik/aroE}
  \draw[rv] (\a)--(\b);
\foreach \a/\b in {E4Pd/gapd,gapd/PE4,NADd1/gapd,gapd/NADHd1,PE4/unkd,unkd/OHPB,NADd2/unkd,unkd/NADHd2,POThr/pdxA,pdxA/AOPB,NADd3/pdxA,pdxA/NADHd3,AOPB/AOP,AOP/pdxJ,pdxJ/Pdxn,Pdxn/pdxH,pdxH/Pdxl,dxsd/dX5Pd,dX5Pd/pdxJ,Pyrd/dxsd,G3Pd/dxsd}
  \draw[ar] (\a)--(\b);
\foreach \a/\b in {OHPB/serC,serC/POThr,Glud/serC,serC/OGd} \draw[rv] (\a)--(\b);
\foreach \a/\b in {dX5Pu/unku1,unku1/MEP,NADPHu1/unku1,unku1/NADPu1,MEP/ispDF2,CTPu/ispDF2,ispDF2/CytMEPP,CytMEPP/thrB,thrB/CytPMEPP,ATPu1/thrB,thrB/ADPu1,CytPMEPP/ispDF1,ispDF1/MEcycPP,ispDF1/CMPu,
  MEcycPP/gcpE,gcpE/HMBPP,HMBPP/lytB1,lytB1/DMAPP,DMAPP/ispA1,ispA1/GerPP,HMBPP/lytB2,lytB2/IPentPP,IPentPP/ispA1,GerPP/ispA2,IPentPP/ispA2,ispA2/FarPP,FarPP/ispB,IPentPP/ispB,ispB/OPPP,OPPP/ubiA,
  Chorq/UbiC,UbiC/Pyrq,UbiC/OHBenzt,OHBenzt/ubiA,ubiA/PPiq,ubiA/OPOHBenzt,OPOHBenzt/unkq,unkq/CO2q,unkq/OPPhe,OPPhe/ubiH1,ubiH1/OPPheOH,NADPHq1/ubiH1,ubiH1/NADPq1,
  OPPheOH/ubiG1,ubiG1/OPmPhe,AdoMet1/ubiG1,ubiG1/AdoHom1,OPmPhe/ubiH2,ubiH2/OPmBenQ,OPmBenQ/ubiE,ubiE/OPMetmBenQ,AdoMet2/ubiE,ubiE/AdoHom2,OPMetmBenQ/ubiH3,ubiH3/OPMetOH,NADPHq2/ubiH3,ubiH3/NADPq2,
  OPMetOH/ubiG2,ubiG2/Ubq,AdoMet3/ubiG2,ubiG2/AdoHom3}
  \draw[ar] (\a)--(\b);
\foreach \a/\b in {GTPr/ribA1,ribA1/DAPRPyr,DAPRPyr/ribD1,ribD1/APRUr,ribD1/NH3r,APRAUr/unkr,unkr/RibAU,ribE/Ribf,Ribf/ribF1,ribF1/FMN,ATPr1/ribF1,ribF1/ADPr}
  \draw[ar] (\a)--(\b);
\foreach \a/\b in {APRUr/ribD2,ribD2/APRAUr,NADPHr/ribD2,ribD2/NADPr,Ru5Pr/ribA2,ribA2/DHButP,DHButP/ribH,RibAU/ribH,ribH/DMetRL,ribE/RibAU,FMN/ribF2,ribF2/FAD,ATPr2/ribF2,ribF2/PPir}
  \draw[rv] (\a)--(\b);
\foreach \a/\b in {AdoMet4/thiC,AIRt/thiC,thiC/COt,thiC/Formt,thiC/dAdo,thiC/Mett,thiC/APMMetPyr,APMMetPyr/thiD,thiD/AMPPPyr,ATPt1/thiD,thiD/ADPt1,AMPPPyr/thiE,thiE/ThP,ThP/unkth,unkth/ThPP,cThzP/thiE,thiG/cThzP,
  G3Pt/dxst,Pyrt/dxst,dxst/CO2t,dxst/dX5Pt,dX5Pt/thiG,ImGly/thiG,thiO/ImGly,Glyt/thiO,ThiSCOSH/thiG,thiF1/ThiSCOSH,thiF1/FerrdOx,Ferrd/thiF1,ThiSAMP/thiF1,thiG/ThiSSCP,ThiSSCP/thiF2,thiF2/ThiSAMP,ATPt2/thiF2,thiF2/PPit,
  Cyst/nifS1,nifS1/Alat,nifS1/nifSSSH,nifSSSH/thiF1,thiF1/nifSSH,nifSSH/nifS1}
  \draw[ar] (\a)--(\b);
\foreach \a/\b in {Name/unkN,unkN/Nam,Nam/pncA,pncA/Niacin,Niacin/pncB,PRPPn/pncB,pncB/Pin,pncB/NicRib,NicRib/nadD,nadD/DamNAD,DamNAD/nadE,nadE/AMPn,nadE/NADess,NADess/nadK,nadK/NADPess}
  \draw[ar] (\a)--(\b);
\foreach \a/\b in {Valc/ilvE,ilvE/MOB3,OG2c/ilvE,ilvE/Gluc,MOB3/panB,panB/DHPan,MetyTHFc/panB,panB/THFc,DHPan/ilvC,ilvC/Pan,NADPHc/ilvC,ilvC/NADPc,Pan/panC,panC/Pnth,bAlac/panC,panC/AMPc,
  Pnth/coaA,coaA/PnthP,PnthP/dfp1,CTPc/dfp1,Cysc/dfp1,dfp1/PPic,dfp1/CMPc,dfp1/CysPnthP,CysPnthP/dfp2,dfp2/CO2c,dfp2/PanteP,PanteP/kttB,kttB/DPCoA,kttB/ATPc1,kttB/PPic2,
  DPCoA/coaE,coaE/CoAess,coaE/ATPc2,coaE/ADPc,CoAess/acpS,acpS/ACPess}
  \draw[ar] (\a)--(\b);
\foreach \a/\b in {AICARf/purH3,purH3/FAICARf,FormTHFf/purH3,purH3/THFess,DHFolf/folA1,folA1/THFess,NADPHf2/folA1,folA1/NADPf2,Fol/folA2,folA2/DHFolf,NADPHf3/folA2,folA2/NADPf3,
  GARf/purN3,purN3/THFess,MetyTHFf/folD1,NADPf1/folD1,folD1/NADPHf1}
  \draw[rv] (\a)--(\b);
\foreach \a/\b in {Fole/unkF,unkF/Fol,folD1/MetTHFf,MetTHFf/folD2,folD2/FormTHFf,FormTHFf/purN3,purN3/FGARf} \draw[ar] (\a)--(\b);
\end{scope}
% ---------- caption
\node[anchor=west,inner sep=0,font=\capfont\fontsize{11}{12}\selectfont,text=cfig] (cap0) at (40,767) {FIGURE 2};
\node[anchor=west,inner sep=0,font=\capfont\fontsize{13.5}{15}\selectfont,text=ccap] (cap1) at (40,786) {Metabolic chart of \textit{B. quintana} str. Toulouse. Light-blue rectangular nodes: enzymes involved in each reaction; green rectangles with red border:};
\node[anchor=west,inner sep=0,font=\capfont\fontsize{13.5}{15}\selectfont,text=ccap] (cap2) at (40,804) {essential compounds for growth; red rectangles: reactions needed with no gene for the corresponding enzyme identified in the genome; golden yellow};
\node[anchor=west,inner sep=0,font=\capfont\fontsize{13.5}{15}\selectfont,text=ccap] (cap3) at (40,823) {hexagons: substrates that need to be imported. Green double-lined edges represent reversible reactions, showing only one of the reaction directions.};
\end{tikzpicture}
\end{document}
